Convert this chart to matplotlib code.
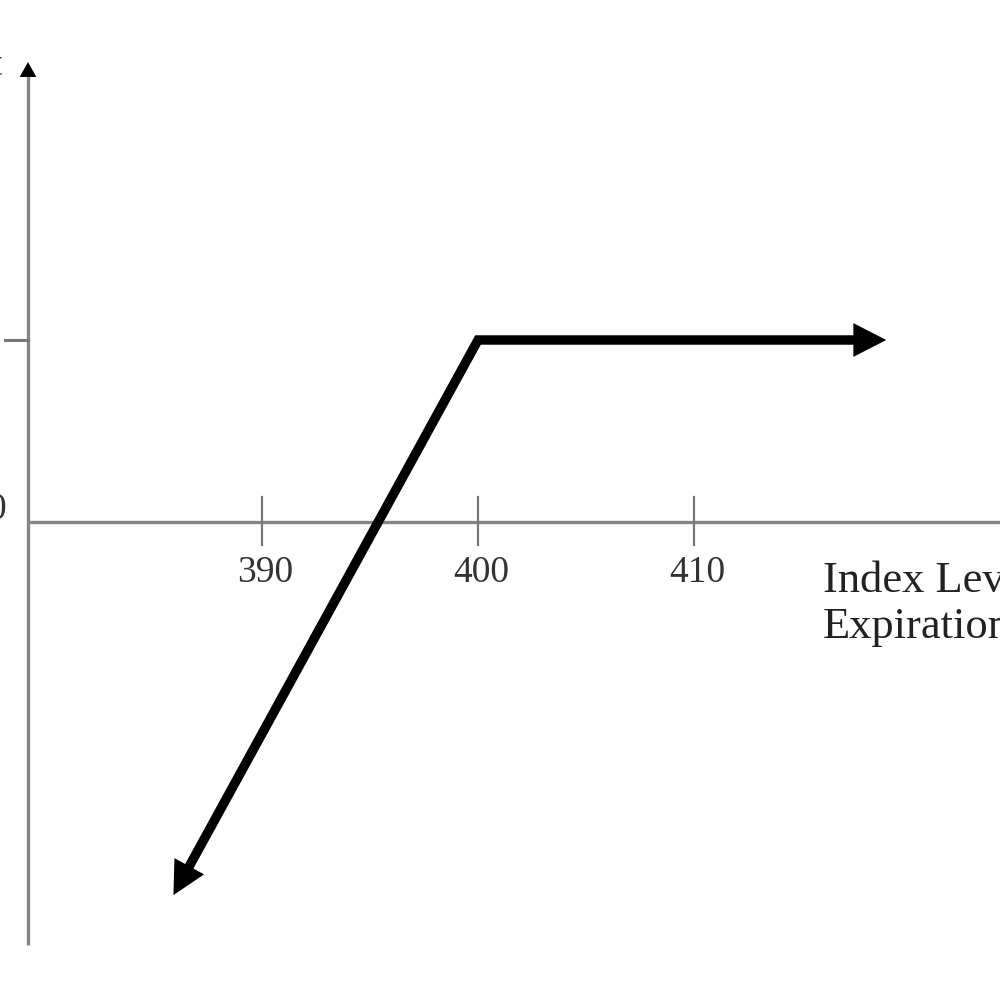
import matplotlib
matplotlib.use("Agg")
import matplotlib.pyplot as plt
import numpy as np
from matplotlib.patches import FancyArrowPatch

# Data (index level at expiration vs profit)
payoff_x = [385.9, 400.0, 418.9]
payoff_y = [-10.25, 5.0, 5.0]
x_ticks = [390, 400, 410]
x_tick_labels = ["390", "400", "410"]
y_ticks = [5]
x_label = "Index Level at\nExpiration"

plt.rcParams['font.family'] = ['Liberation Serif', 'DejaVu Serif']

fig = plt.figure(figsize=(10, 10), dpi=100)
ax = fig.add_axes([0, 0, 1, 1])
# pixel mapping: x 21.6 px/unit, y 36.4 px/unit
x0 = 400 - 478 / 21.6
x1 = 400 + 522 / 21.6
y1 = 522 / 36.4
y0 = -478 / 36.4
ax.set_xlim(x0, x1)
ax.set_ylim(y0, y1)
ax.axis('off')

yaxis_x = 400 - 450 / 21.6
gray = '#858585'
# x axis
ax.plot([yaxis_x, x1], [0, 0], color=gray, lw=2.4, solid_capstyle='butt', zorder=1)
# y axis
ytop = (522 - 74) / 36.4
ybot = -(945 - 522) / 36.4
ax.plot([yaxis_x, yaxis_x], [ybot, ytop], color=gray, lw=2.4, solid_capstyle='butt', zorder=1)
ax.add_patch(FancyArrowPatch((yaxis_x, ytop - 0.5), (yaxis_x, (522 - 62) / 36.4),
                             arrowstyle='-|>,head_length=0.45,head_width=0.25', mutation_scale=24,
                             color='black', lw=0, zorder=3, shrinkA=0, shrinkB=0))

# x ticks
for t, lab in zip(x_ticks, x_tick_labels):
    ax.plot([t, t], [-0.62, 0.70], color='#777777', lw=1.6, zorder=1)
    ax.text(t + 0.15, -1.4, lab, ha='center', va='center', fontsize=27, color='#333333')

# y ticks
for t in y_ticks:
    ax.plot([yaxis_x - 23 / 21.6, yaxis_x], [t, t], color='#777777', lw=2.2, zorder=1)

# partially cut labels on left edge
ax.text(378.15, 0.35, "0", ha='right', va='center', fontsize=27, color='#333333')
ax.text(378.0, (522 - 66) / 36.4, "Profit", ha='right', va='center', fontsize=27, color='#333333')

ax.text(400 + (823 - 478) / 21.6, -(604 - 522) / 36.4, x_label, ha='left', va='center',
        fontsize=32, color='#222222', linespacing=1.2)

# payoff line with arrows at both ends (line stops at arrow-head base)
lw_line = 6.8
head_px = 30
pix = ax.transData.transform(np.column_stack([payoff_x, payoff_y]))
def shorten(p_end, p_from, d):
    v = p_end - p_from
    return p_end - v / np.linalg.norm(v) * d
start = shorten(pix[0], pix[1], head_px)
end = shorten(pix[2], pix[1], head_px)
inv = ax.transData.inverted()
line_pts = inv.transform(np.array([start, pix[1], end]))
ax.plot(line_pts[:, 0], line_pts[:, 1], color='black', lw=lw_line,
        solid_capstyle='butt', solid_joinstyle='miter', zorder=2)
style = '-|>,head_length=0.74,head_width=0.38'
ax.add_patch(FancyArrowPatch((payoff_x[1], payoff_y[1]), (payoff_x[2], payoff_y[2]),
                             arrowstyle=style, mutation_scale=32,
                             color='black', lw=0, zorder=3, shrinkA=0, shrinkB=0))
ax.add_patch(FancyArrowPatch((payoff_x[1], payoff_y[1]), (payoff_x[0], payoff_y[0]),
                             arrowstyle=style, mutation_scale=32,
                             color='black', lw=0, zorder=3, shrinkA=0, shrinkB=0))

fig.savefig("out.png", dpi=100, facecolor='white')
